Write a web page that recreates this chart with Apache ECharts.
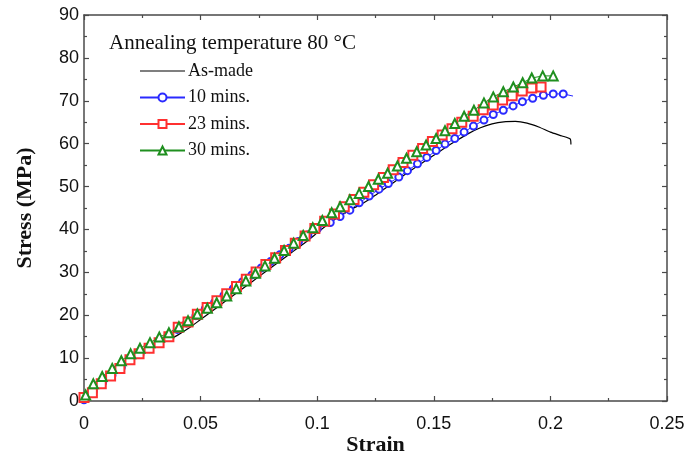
<!DOCTYPE html>
<html>
<head>
<meta charset="utf-8">
<script src="https://cdn.jsdelivr.net/npm/echarts@6/dist/echarts.min.js"></script>
<style>
  html, body { margin: 0; padding: 0; background: #fff; }
  #chart { width: 699px; height: 457px; }
</style>
</head>
<body>
<div id="chart"></div>
<script>
// strain / stress pairs
var asMade = [
    [0, 0], [0.005, 3.5], [0.01, 6.3], [0.015, 8.4], [0.02, 10.2], [0.025, 11.5],
    [0.03, 12.7], [0.035, 13.9], [0.04, 15.3], [0.045, 17.0], [0.05, 19.0],
    [0.055, 21.0], [0.06, 23.0], [0.065, 25.0], [0.07, 27.0], [0.075, 29.0],
    [0.08, 31.0], [0.085, 33.0], [0.09, 35.0], [0.095, 37.0], [0.1, 39.2],
    [0.105, 41.4], [0.11, 43.2], [0.115, 44.8], [0.12, 46.2], [0.125, 48.0],
    [0.13, 49.9], [0.135, 51.8], [0.14, 53.7], [0.145, 55.5], [0.15, 57.3],
    [0.155, 59.1], [0.16, 60.8], [0.165, 62.4], [0.17, 63.7], [0.175, 64.6],
    [0.18, 65.1], [0.185, 65.2], [0.19, 64.8], [0.195, 63.9], [0.2, 62.7],
    [0.205, 61.8], [0.2085, 61.1], [0.2088, 59.8]
];
var mins10 = [
    [0, 0.3], [0.004, 2.3], [0.008, 4.3], [0.012, 6.0], [0.016, 7.8], [0.02, 9.6],
    [0.024, 10.9], [0.028, 12.2], [0.032, 13.5], [0.036, 14.9], [0.04, 16.7],
    [0.044, 18.2], [0.048, 19.9], [0.052, 21.5], [0.056, 23.0], [0.06, 24.6],
    [0.064, 26.2], [0.068, 27.8], [0.072, 29.4], [0.076, 31.0], [0.08, 32.5],
    [0.084, 34.1], [0.088, 35.6], [0.092, 37.2], [0.096, 38.7], [0.1, 40.1],
    [0.1056, 41.6], [0.1098, 43.0], [0.114, 44.5], [0.118, 46.2], [0.1223, 47.8],
    [0.1265, 49.4], [0.1305, 50.7], [0.135, 52.2], [0.1387, 53.7], [0.143, 55.3],
    [0.147, 56.8], [0.151, 58.4], [0.1548, 59.9], [0.159, 61.2], [0.163, 62.7],
    [0.167, 64.1], [0.1715, 65.5], [0.1755, 66.8], [0.1798, 67.8], [0.184, 68.8],
    [0.188, 69.8], [0.1924, 70.6], [0.197, 71.3], [0.2012, 71.6], [0.2055, 71.6]
];
var mins10Tail = [0.2097, 71.1];
var mins23 = [
    [0, 0.8], [0.0036, 1.9], [0.0074, 4.0], [0.0114, 5.8], [0.0154, 7.6], [0.0197, 9.6],
    [0.0236, 11.0], [0.0279, 12.3], [0.0322, 13.6], [0.0364, 15.0], [0.0404, 17.2],
    [0.0446, 18.4], [0.0486, 20.2], [0.0528, 21.8], [0.057, 23.4], [0.0612, 25.0],
    [0.0654, 26.7], [0.0696, 28.4], [0.0738, 30.1], [0.078, 31.8], [0.0822, 33.4],
    [0.0864, 35.1], [0.0906, 36.8], [0.0948, 38.5], [0.099, 40.2], [0.1032, 41.9],
    [0.1074, 43.6], [0.1116, 45.3], [0.1158, 47.0], [0.12, 48.7], [0.1242, 50.4],
    [0.1284, 52.1], [0.1326, 53.9], [0.1368, 55.6], [0.141, 57.3], [0.1452, 58.9],
    [0.1494, 60.5], [0.1536, 62.0], [0.1578, 63.5], [0.162, 65.0], [0.1669, 66.4],
    [0.1712, 67.9], [0.1755, 69.0], [0.1795, 70.2], [0.1836, 71.2], [0.1879, 72.3],
    [0.192, 73.0], [0.196, 73.2]
];
var mins30 = [
    [0.0007, 1.4], [0.004, 4.0], [0.0078, 5.7], [0.0121, 7.6], [0.016, 9.4], [0.02, 11.0],
    [0.024, 12.3], [0.0283, 13.6], [0.0323, 14.9], [0.0364, 15.9], [0.0407, 17.3],
    [0.0446, 18.7], [0.0486, 20.3], [0.0529, 21.6], [0.0569, 22.9], [0.0612, 24.5],
    [0.0653, 26.2], [0.0694, 28.0], [0.0735, 29.8], [0.0776, 31.5], [0.0817, 33.3],
    [0.0858, 35.1], [0.0899, 36.8], [0.094, 38.6], [0.0981, 40.4], [0.1022, 42.1],
    [0.1062, 43.9], [0.1098, 45.3], [0.114, 46.9], [0.118, 48.4], [0.122, 50.0],
    [0.1262, 51.7], [0.1302, 53.1], [0.1344, 54.8], [0.1383, 56.6], [0.1427, 58.1],
    [0.1467, 59.7], [0.151, 61.2], [0.1548, 63.0], [0.159, 64.7], [0.163, 66.4],
    [0.1672, 67.8], [0.1715, 69.5], [0.1755, 70.9], [0.1798, 72.1], [0.1841, 73.2],
    [0.1881, 74.2], [0.192, 75.3], [0.1967, 75.8], [0.2012, 75.8]
];
var seriesNames = ['As-made', '10 mins.', '23 mins.', '30 mins.'];
var xTicks = { min: 0, max: 0.25, interval: 0.05 };
var yTicks = { min: 0, max: 90, interval: 10 };

var axisGrey = '#4a4a4a';
var serif = '"Liberation Serif", "Times New Roman", serif';
var sans = '"Liberation Sans", Arial, sans-serif';

function frameAxis(pos, ticks, extra) {
    var ax = {
        type: 'value',
        position: pos,
        min: ticks.min, max: ticks.max, interval: ticks.interval,
        axisLine: { show: true, onZero: false, lineStyle: { color: axisGrey, width: 1.5 } },
        axisTick: { show: true, inside: true, length: 5, lineStyle: { color: axisGrey, width: 1.2 } },
        minorTick: { show: true, splitNumber: 2, length: 3, lineStyle: { color: axisGrey, width: 1.2 } },
        splitLine: { show: false },
        axisLabel: { show: false }
    };
    for (var k in extra) ax[k] = extra[k];
    return ax;
}

var tail10 = mins10.slice();
tail10.push({ value: mins10Tail, symbol: 'none' });

var myChart = echarts.init(document.getElementById('chart'));
var option = {
    backgroundColor: '#fff',
    animation: false,
    title: {
        text: 'Annealing temperature 80 °C',
        left: 109, top: 33, padding: 0,
        textStyle: { fontFamily: serif, fontSize: 21, fontWeight: 'normal', color: '#111' }
    },
    legend: {
        orient: 'vertical',
        left: 134, top: 57,
        itemWidth: 45, itemHeight: 10, itemGap: 8.5,
        data: [
            { name: seriesNames[0], icon: 'path://M0,0L45,0L45,1.2L0,1.2Z' },
            seriesNames[1], seriesNames[2], seriesNames[3]
        ],
        textStyle: { fontFamily: serif, fontSize: 18, color: '#111', padding: [0, 0, 0, -2] }
    },
    grid: { left: 84, right: 32, top: 15, bottom: 56, outerBoundsMode: 'none' },
    xAxis: [
        frameAxis('bottom', xTicks, {
            name: 'Strain', nameLocation: 'middle', nameGap: 33, nameMoveOverlap: false,
            nameTextStyle: { fontFamily: serif, fontSize: 22, fontWeight: 'bold', color: '#111' },
            axisLabel: { show: true, margin: 14, fontFamily: sans, fontSize: 18, color: '#111' }
        }),
        frameAxis('top', xTicks, {})
    ],
    yAxis: [
        frameAxis('left', yTicks, {
            name: 'Stress (MPa)', nameLocation: 'middle', nameGap: 48, nameMoveOverlap: false,
            nameTextStyle: { fontFamily: serif, fontSize: 22, fontWeight: 'bold', color: '#111' },
            axisLabel: { show: true, margin: 5, fontFamily: sans, fontSize: 18, color: '#111' }
        }),
        frameAxis('right', yTicks, {})
    ],
    series: [
        {
            name: seriesNames[0], type: 'line', data: asMade, smooth: 0.2,
            symbol: 'none', color: '#000',
            lineStyle: { color: '#000', width: 1.2 }
        },
        {
            name: seriesNames[1], type: 'line', data: tail10,
            symbol: 'emptyCircle', symbolSize: 7, color: '#2a2aff',
            lineStyle: { color: '#2a2aff', width: 1 },
            itemStyle: { borderWidth: 1.2 }
        },
        {
            name: seriesNames[2], type: 'line', data: mins23,
            symbol: 'emptyRect', symbolSize: 9, color: '#ff3030',
            lineStyle: { color: '#ff3030', width: 1 },
            itemStyle: { borderWidth: 1.2 }
        },
        {
            name: seriesNames[3], type: 'line', data: mins30,
            symbol: 'emptyTriangle', symbolSize: 9, color: '#1f8f1f',
            lineStyle: { color: '#1f8f1f', width: 1 },
            itemStyle: { borderWidth: 1.2 }
        }
    ]
};
myChart.setOption(option);
</script>
</body>
</html>
